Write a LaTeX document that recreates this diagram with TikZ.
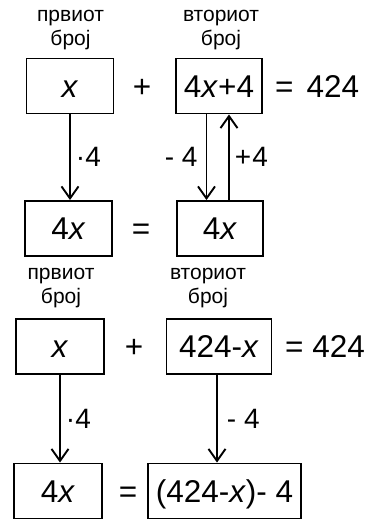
\documentclass[tikz,border=0pt]{standalone}
\usepackage{fontspec}
\setmainfont{Liberation Sans}
\usetikzlibrary{arrows.meta,positioning,calc}

\begin{document}
\begin{tikzpicture}[x=1pt, y=-1pt, >={Straight Barb[length=12pt,width=17pt]},
    box/.style={draw, line width=1.9pt, minimum height=55pt, inner sep=0pt,
        text height=22pt, text depth=0pt, font=\fontsize{31.5}{36}\selectfont},
    op/.style={inner sep=0pt, text height=22pt, text depth=0pt, font=\fontsize{31.5}{36}\selectfont},
    lab/.style={align=center, inner sep=0pt, font=\fontsize{21}{24}\selectfont},
    steplab/.style={inner sep=0pt, font=\fontsize{28}{31}\selectfont},
    arr/.style={->, line width=1.9pt}]
    \useasboundingbox (0,0) rectangle (374,520);

    % First equation: x + (4x+4) = 424
    \node[lab] (l1) at (70.5,30) {првиот\\број};
    \node[lab] (l2) at (221,30) {вториот\\број};
    \node[box, minimum width=87pt] (b1) at (70,86) {\textit{x}};
    \node[op] (p1) at (142,86) {+};
    \node[box, minimum width=86pt] (b2) at (219,86) {4\textit{x}+4};
    \node[op, anchor=west] (r1) at (275,86) {=\hspace{13pt}424};

    % 4x = 4x
    \node[box, minimum width=87pt] (b3) at (68.5,228.5) {4\textit{x}\hspace{10pt}};
    \node[op] (e2) at (141,228.5) {=};
    \node[box, minimum width=86pt] (b4) at (220,228.5) {4\textit{x}\hspace{10pt}};

    \draw[arr] (b1.south) -- (b1.south |- b3.north)
        node[midway, right=5pt, steplab] {·4};
    \draw[arr] ([xshift=-12.5pt]b2.south) -- ([xshift=-12.5pt]b2.south |- b4.north)
        node[midway, left=8pt, steplab] {- 4};
    \draw[arr] ([xshift=10pt]b2.south |- b4.north) -- ([xshift=10pt]b2.south)
        node[midway, right=5pt, steplab] {+\hspace{1pt}4};

    % Second equation: x + (424-x) = 424
    \node[lab] (l3) at (61,288.5) {првиот\\број};
    \node[lab] (l4) at (208,288.5) {вториот\\број};
    \node[box, minimum width=88pt] (b5) at (60,346.5) {\textit{x}};
    \node[op] (p2) at (134,346.5) {+};
    \node[box, minimum width=105pt] (b6) at (219,346.5) {424-\textit{x}\hspace{9pt}};
    \node[op, anchor=west] (r2) at (285,346.5) {=~424};

    % 4x = (424-x)-4
    \node[box, minimum width=88pt] (b7) at (58,491) {4\textit{x}\hspace{9pt}};
    \node[op] (e4) at (128,491) {=};
    \node[box, minimum width=153pt] (b8) at (224.5,491) {(424-\textit{x})- 4};

    \draw[arr] (b5.south) -- (b5.south |- b7.north)
        node[midway, right=5pt, steplab] {·4};
    \draw[arr] ([xshift=-2pt]b6.south) -- ([xshift=-2pt]b6.south |- b8.north)
        node[midway, right=9pt, steplab] {- 4};

\end{tikzpicture}
\end{document}
